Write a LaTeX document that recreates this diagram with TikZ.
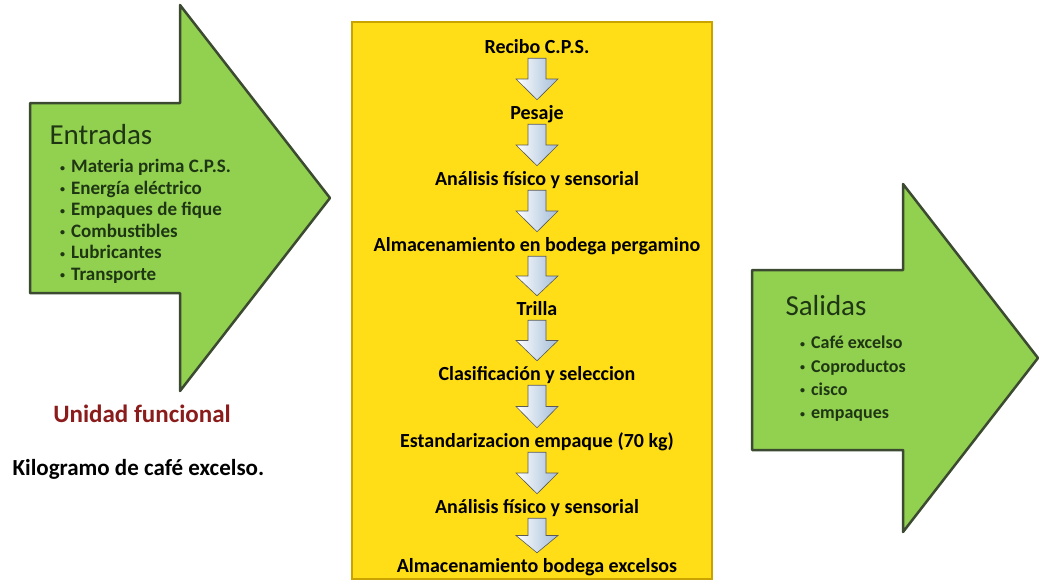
\documentclass[tikz,border=0pt]{standalone}
\usepackage{fontspec}
\setmainfont{Carlito}
\usetikzlibrary{calc}

\definecolor{verde}{HTML}{92D050}
\definecolor{verdeosc}{HTML}{3B4A30}
\definecolor{amarillo}{HTML}{FFDE17}
\definecolor{amarilloosc}{HTML}{C9A400}
\definecolor{vino}{HTML}{8B1C1C}
\definecolor{textoverde}{HTML}{1E3614}
\definecolor{flechagris}{HTML}{A3BCD8}

\tikzset{
  grande/.style={draw=verdeosc,fill=verde,line width=2.5pt,line join=round},
  paso/.style={font=\bfseries\fontsize{20}{20}\selectfont,text height=14pt,text depth=4pt,inner sep=0pt},
  flechabloque/.style={draw=gray!70!black,line width=0.6pt,left color=white,right color=flechagris},
}
\newcommand{\vineta}{\raisebox{1.5pt}{\fontsize{10}{10}\selectfont\textbullet}\hspace{6pt}}
% flecha de bloque entre dos pasos
\newcommand{\flecha}[2]{%
  \path[flechabloque] let \p1=($(#1.south)+(0,-1pt)$), \p2=($(#2.north)+(0,5pt)$), \n1={0.5*(\y1+\y2)} in
    (\x1-9pt,\y1) -- (\x1+9pt,\y1) -- (\x1+9pt,{\n1*1pt}) -- (\x1+21pt,{\n1*1pt}) -- (\x1,\y2)
    -- (\x1-21pt,{\n1*1pt}) -- (\x1-9pt,{\n1*1pt}) -- cycle;}

\begin{document}
\begin{tikzpicture}[x=1pt,y=-1pt]
  \useasboundingbox[fill=white] (0,0) rectangle (1042,581);
  % entradas
  \draw[grande] (30,103)--(180,103)--(180,5)--(330,198)--(180,391)--(180,293)--(30,293)--cycle;
  \node[anchor=west,text=textoverde,font=\fontsize{29}{29}\selectfont] (entradas) at (46,135) {Entradas};
  \node[anchor=north west,align=left,inner sep=0pt,text=textoverde,font=\bfseries\fontsize{19}{21.5}\selectfont] (listaent) at (60,159)
    {\vineta Materia prima C.P.S.\\ \vineta Energía eléctrico\\ \vineta Empaques de fique\\
     \vineta Combustibles\\ \vineta Lubricantes\\ \vineta Transporte};
  \node[text=vino,font=\bfseries\fontsize{25}{25}\selectfont] (unidad) at (142,414) {Unidad funcional};
  \node[anchor=west,font=\bfseries\fontsize{23}{23}\selectfont] (kilo) at (9,469) {Kilogramo de café excelso.};
  % proceso
  \draw[fill=amarillo,draw=amarilloosc,line width=1.2pt] (352,22) rectangle (712,579);
  \node[paso] (recibo) at (537,48) {Recibo C.P.S.};
  \node[paso] (pesaje) at (537,114) {Pesaje};
  \node[paso] (analisis) at (537,180) {Análisis físico y sensorial};
  \node[paso] (almacen) at (537,246) {Almacenamiento en bodega pergamino};
  \node[paso] (trilla) at (537,310) {Trilla};
  \node[paso] (clasif) at (537,375) {Clasificación y seleccion};
  \node[paso] (estand) at (537,442) {Estandarizacion empaque (70 kg)};
  \node[paso] (analisisb) at (537,508) {Análisis físico y sensorial};
  \node[paso] (almacenb) at (537,567) {Almacenamiento bodega excelsos};
  \flecha{recibo}{pesaje}
  \flecha{pesaje}{analisis}
  \flecha{analisis}{almacen}
  \flecha{almacen}{trilla}
  \flecha{trilla}{clasif}
  \flecha{clasif}{estand}
  \flecha{estand}{analisisb}
  \flecha{analisisb}{almacenb}
  % salidas
  \draw[grande] (752,270)--(903,270)--(903,184)--(1038,358)--(903,532)--(903,450)--(752,450)--cycle;
  \node[anchor=west,text=textoverde,font=\fontsize{29}{29}\selectfont] (salidas) at (782,306) {Salidas};
  \node[anchor=north west,align=left,inner sep=0pt,text=textoverde,font=\bfseries\fontsize{18}{23.3}\selectfont] (listasal) at (800,336)
    {\vineta Café excelso\\ \vineta Coproductos\\ \vineta cisco\\ \vineta empaques};
\end{tikzpicture}
\end{document}
